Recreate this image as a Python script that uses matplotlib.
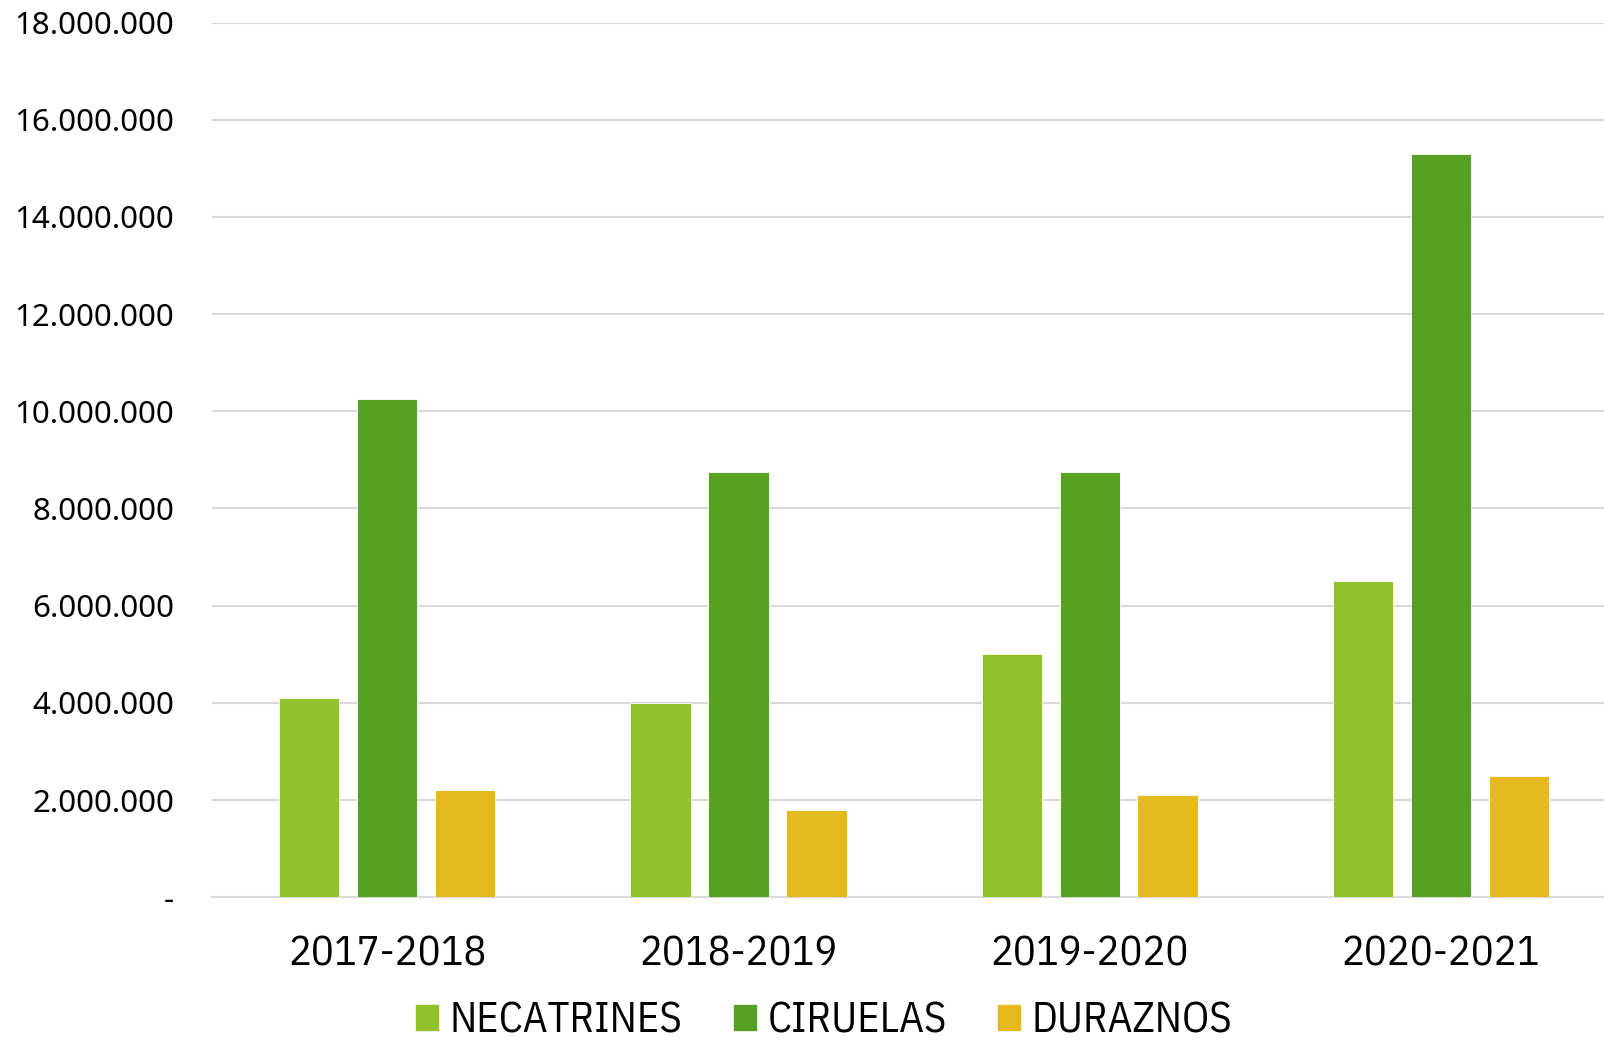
import matplotlib
matplotlib.use('Agg')
import matplotlib.pyplot as plt
from matplotlib.ticker import FuncFormatter
from matplotlib.patches import Patch
import numpy as np

seasons = ['2017-2018', '2018-2019', '2019-2020', '2020-2021']
series_names = ['NECATRINES', 'CIRUELAS', 'DURAZNOS']
necatrines = [4100000, 4000000, 5000000, 6500000]
ciruelas = [10250000, 8750000, 8750000, 15300000]
duraznos = [2200000, 1800000, 2100000, 2500000]
colors = ['#92C22A', '#56A024', '#E5B820']

narrow = ['IBM Plex Sans Condensed', 'Liberation Sans Narrow', 'DejaVu Sans']

fig = plt.figure(figsize=(16.04, 10.43), dpi=100)
ax = fig.add_axes([211.6/1604, 145.8/1043, 1405/1604, 874.7/1043])

x = np.arange(len(seasons))
w = 0.172
step = 0.222
for k, (vals, name) in enumerate(zip([necatrines, ciruelas, duraznos], series_names)):
    ax.bar(x + (k-1)*step, vals, width=w, color=colors[k], edgecolor='white',
           linewidth=0.6, zorder=3, label=name)

ax.set_xlim(-0.5, 3.5)
ax.set_ylim(0, 18000000)
ax.set_yticks(np.arange(0, 18000001, 2000000))

def fmt(v, pos):
    if v == 0:
        return '-'
    return '{:,.0f}'.format(v).replace(',', '.')

ax.yaxis.set_major_formatter(FuncFormatter(fmt))
ax.grid(axis='y', color='#d9d9d9', linewidth=1.5, zorder=0)
for s in ['top', 'right', 'left']:
    ax.spines[s].set_visible(False)
ax.spines['bottom'].set_color('#d9d9d9')
ax.spines['bottom'].set_linewidth(1.5)
ax.tick_params(axis='y', length=0, pad=27, labelsize=22.5)
ax.tick_params(axis='x', length=0, pad=27)
for lab in ax.get_yticklabels():
    lab.set_family(['Noto Sans', 'DejaVu Sans'])
ax.set_xticks(x)
ax.set_xticklabels(seasons, family=narrow, fontsize=30.5)

handles = [Patch(color=c) for c in colors]
fig.legend(handles, series_names, loc='center', bbox_to_anchor=(824/1604, 1-1021/1043),
           ncol=3, frameon=False, prop={'family': narrow, 'size': 30.8},
           handlelength=0.52, handleheight=0.52, handletextpad=0.27, columnspacing=1.2,
           borderpad=0.1)

fig.savefig('out.png', dpi=100, facecolor='white')
